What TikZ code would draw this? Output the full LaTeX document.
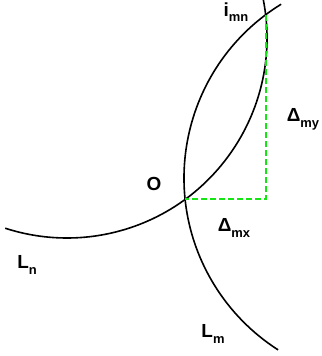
\documentclass[tikz,border=0pt]{standalone}
\usepackage{fontspec}
\setmainfont{Liberation Sans}
\usetikzlibrary{calc}
\definecolor{guidegreen}{RGB}{20,230,20}
\newcommand{\lsub}[1]{\raisebox{-0.3em}{\fontsize{13}{13}\selectfont #1}}
\tikzset{
  lncurve/.style={draw=black, line width=1.6bp},
  lnguide/.style={draw=guidegreen, dash pattern=on 6bp off 3bp, line width=2bp},
  lnlabel/.style={font=\fontsize{19}{19}\selectfont\bfseries, inner sep=0pt}
}

\begin{document}
\begin{tikzpicture}[x=1bp,y=1bp]
\useasboundingbox (0,0) rectangle (322,356);
% the two arcs; their centres lie outside the view
\draw[lncurve] (67,318) ++(11:200) arc[start angle=11, end angle=-108, radius=200];
\draw[lncurve] (388,178) ++(121.6:204) arc[start angle=121.6, end angle=237.4, radius=204];
\coordinate (O) at (185.1,156.6);
\coordinate (imn) at (265.7,341.2);
\coordinate (corner) at (imn |- O);
\draw[lnguide] (imn) -- (corner) -- (O);
\node[lnlabel] (imnlbl) at (236,344) {i\lsub{mn}};
\node[lnlabel] (olbl) at (154,172) {O};
\node[lnlabel] (dmy) at (303,237) {Δ\lsub{my}};
\node[lnlabel] (dmx) at (234,128) {Δ\lsub{mx}};
\node[lnlabel] (lnlbl) at (27,91) {L\lsub{n}};
\node[lnlabel] (lmlbl) at (213,22) {L\lsub{m}};
\end{tikzpicture}
\end{document}
